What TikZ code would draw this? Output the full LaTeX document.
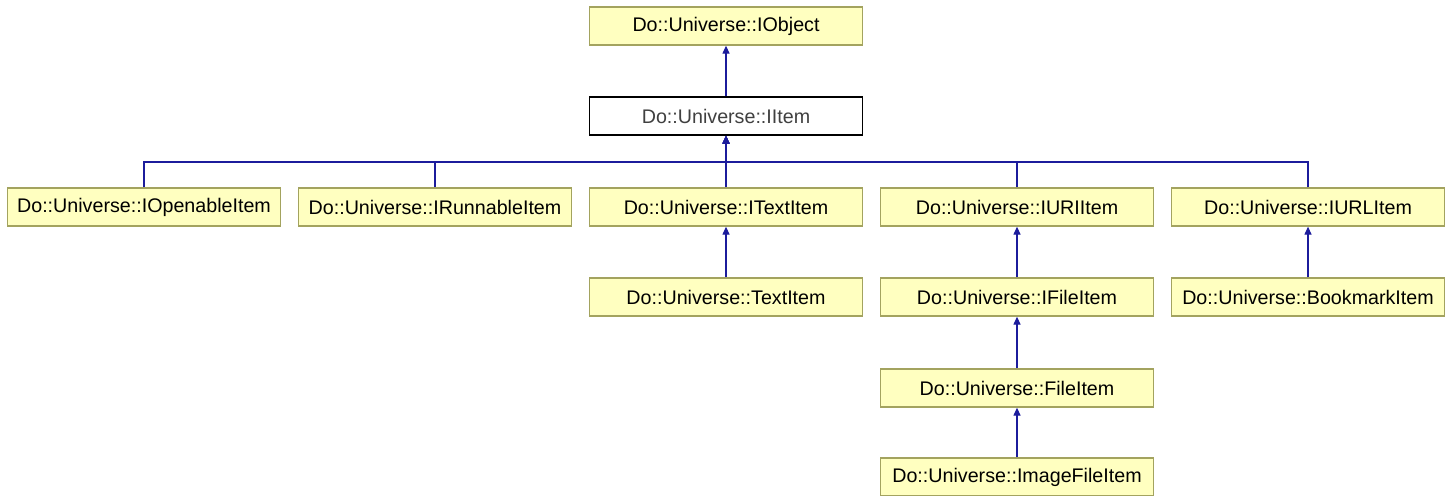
\documentclass[tikz,border=0pt]{standalone}
\usepackage{fontspec}
\setmainfont{Liberation Sans}
\usetikzlibrary{arrows.meta}
\definecolor{classfill}{HTML}{FFFFC0}
\definecolor{classline}{HTML}{A3A35F}
\definecolor{inherit}{HTML}{1C1C9C}
\begin{document}
\begin{tikzpicture}[x=0.02cm,y=-0.02cm,
	cls/.style={draw=classline,line width=0.8pt,fill=classfill,minimum width=5.46cm,minimum height=0.76cm,inner sep=0pt,font=\fontsize{11.2}{13}\selectfont},
	cur/.style={cls,draw=black,fill=white,text=black!75},
	isa/.style={draw=inherit,line width=0.6pt,-{Triangle[width=4pt,length=4.5pt]}}]
	\useasboundingbox (0,0) rectangle (1452,495);
	\node[cls] (obj)  at (726,  26)	{Do::Universe::IObject};
	\node[cur] (item) at (726, 116)	{Do::Universe::IItem};
	\node[cls] (open) at (144, 207)	{Do::Universe::IOpenableItem};
	\node[cls] (run)  at (435, 207)	{Do::Universe::IRunnableItem};
	\node[cls] (itxt) at (726, 207)	{Do::Universe::ITextItem};
	\node[cls] (iuri) at (1017, 207)	{Do::Universe::IURIItem};
	\node[cls] (iurl) at (1308, 207)	{Do::Universe::IURLItem};
	\node[cls] (txt)  at (726, 297)	{Do::Universe::TextItem};
	\node[cls] (ifil) at (1017, 297)	{Do::Universe::IFileItem};
	\node[cls] (bkm)  at (1308, 297)	{Do::Universe::BookmarkItem};
	\node[cls] (fil)  at (1017, 388)	{Do::Universe::FileItem};
	\node[cls] (img)  at (1017, 477)	{Do::Universe::ImageFileItem};
	\coordinate (bus) at (726, 162);

	\def\straight {item/obj, itxt/item, txt/itxt, ifil/iuri, fil/ifil, img/fil, bkm/iurl}  % direct parents
	\foreach \u\v in \straight
	{	\draw[isa] (\u) -- (\v);
	}
	\def\viabus {open, run, iuri, iurl}  % share the bus line
	\foreach \u in \viabus
	{	\draw[isa] (\u.north) |- (bus) -- (item);
	}
\end{tikzpicture}
\end{document}
